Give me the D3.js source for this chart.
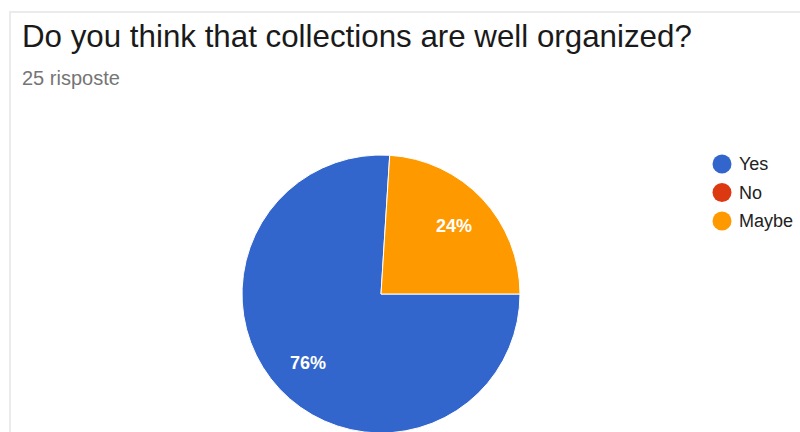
<!DOCTYPE html>
<html>
<head>
<script src="https://d3js.org/d3.v7.min.js"></script>
<style>
  body { margin: 0; background: #fff; }
  text { font-family: "Liberation Sans", Arial, sans-serif; }
</style>
</head>
<body>
<svg width="800" height="432"></svg>
<script>
const title = "Do you think that collections are well organized?";
const subtitle = "25 risposte";
const categories = ["Yes", "No", "Maybe"];
const counts = [19, 0, 6];
const colors = ["#3366cc", "#dc3912", "#ff9900"];

const svg = d3.select("svg");

// card border
svg.append("path")
  .attr("d", "M10,432 V12 H800")
  .attr("fill", "none")
  .attr("stroke", "#ebebeb")
  .attr("stroke-width", 2);

svg.append("text")
  .attr("x", 22).attr("y", 47)
  .attr("font-size", 31.3)
  .attr("fill", "#1a1a1a")
  .text(title);

svg.append("text")
  .attr("x", 22).attr("y", 85)
  .attr("font-size", 20)
  .attr("fill", "#757575")
  .text(subtitle);

const data = categories.map((c, i) => ({ name: c, value: counts[i], color: colors[i] }));
const total = d3.sum(counts);

const pie = d3.pie().value(d => d.value).sort(null)
  .startAngle(Math.PI / 2).endAngle(Math.PI / 2 + 2 * Math.PI);
const r = 139;
const arc = d3.arc().innerRadius(0).outerRadius(r);
const labelArc = d3.arc().innerRadius(r * 0.72).outerRadius(r * 0.72);

const g = svg.append("g").attr("transform", "translate(381,294)");

const arcs = pie(data).filter(d => d.value > 0);

g.selectAll("path.slice")
  .data(arcs)
  .enter().append("path")
  .attr("class", "slice")
  .attr("d", arc)
  .attr("fill", d => d.data.color)
  .attr("stroke", "#fff")
  .attr("stroke-width", 1);

g.selectAll("text.pct")
  .data(arcs)
  .enter().append("text")
  .attr("class", "pct")
  .attr("transform", d => `translate(${labelArc.centroid(d)})`)
  .attr("text-anchor", "middle")
  .attr("dy", "0.35em")
  .attr("font-size", 18)
  .attr("font-weight", "bold")
  .attr("fill", "#fff")
  .text(d => Math.round(d.value / total * 100) + "%");

const legend = svg.selectAll(".legend")
  .data(data)
  .enter().append("g")
  .attr("class", "legend")
  .attr("transform", (d, i) => `translate(722,${164 + i * 28.5})`);

legend.append("circle")
  .attr("r", 9.5)
  .attr("fill", d => d.color);

legend.append("text")
  .attr("x", 17)
  .attr("dy", "0.35em")
  .attr("font-size", 18)
  .attr("fill", "#222")
  .text(d => d.name);
</script>
</body>
</html>
